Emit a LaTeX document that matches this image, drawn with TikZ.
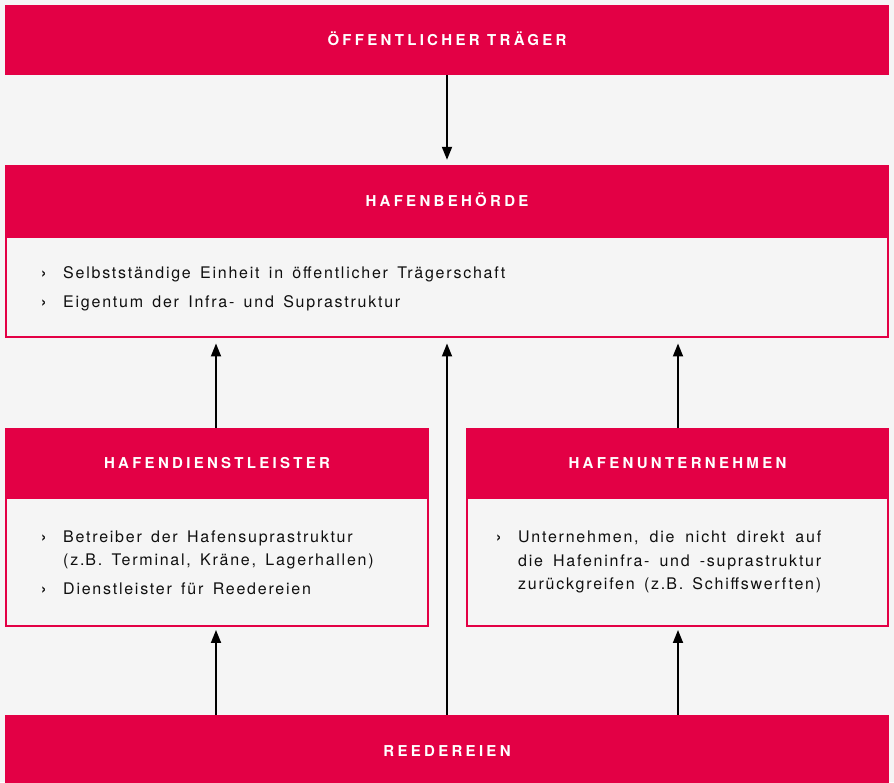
\documentclass[tikz,border=0pt]{standalone}
\usepackage{fontspec}
\setmainfont{TeX Gyre Heros}
\newfontfamily\hdrfont[LetterSpace=22]{TeX Gyre Heros}
\newfontfamily\txtfont[LetterSpace=11,WordSpace=1.5]{TeX Gyre Heros}
\usetikzlibrary{arrows.meta}
\definecolor{hafenrot}{HTML}{E30045}
\definecolor{grund}{HTML}{F5F5F5}
\definecolor{schrift}{HTML}{0F0F0F}
\begin{document}
\begin{tikzpicture}[x=1pt,y=1pt,
  kopf/.style={fill=hafenrot, draw=none, inner sep=0pt, text=white,
    font=\hdrfont\bfseries\fontsize{15}{18}\selectfont,
    text height=10.8pt, text depth=0pt},
  rumpf/.style={draw=hafenrot, line width=2pt, fill=grund, inner sep=0pt},
  zeile/.style={anchor=base west, inner sep=0pt, text=schrift,
    font=\txtfont\fontsize{16}{19}\selectfont},
  marke/.style={zeile, font=\txtfont\bfseries\fontsize{16}{19}\selectfont},
  pfeil/.style={line width=1.8pt, -{Triangle[length=13pt,width=10pt]}}
]
% canvas
\fill[grund] (0,0) rectangle (894,782);
\useasboundingbox (0,0) rectangle (894,782);

% public owner
\node[kopf, minimum width=884pt, minimum height=70pt] (traeger) at (447,742) {ÖFFENTLICHER TRÄGER};

% port authority
\node[rumpf, minimum width=882pt, minimum height=100pt] (behoerdeR) at (447,495) {};
\node[kopf, minimum width=884pt, minimum height=72pt] (behoerde) at (447,581) {HAFENBEHÖRDE};
\node[marke] (bm1) at (41,503) {›};
\node[zeile] (bt1) at (63,503) {Selbstständige Einheit in öffentlicher Trägerschaft};
\node[marke] (bm2) at (41,474) {›};
\node[zeile] (bt2) at (63,474) {Eigentum der Infra- und Suprastruktur};

% port service providers
\node[rumpf, minimum width=422pt, minimum height=128pt] (dienstR) at (217,220) {};
\node[kopf, minimum width=424pt, minimum height=70pt] (dienst) at (217,319) {HAFENDIENSTLEISTER};
\node[marke] (dm1) at (41,239) {›};
\node[zeile] (dt1) at (63,239) {Betreiber der Hafensuprastruktur};
\node[zeile] (dt2) at (63,216) {(z.\kern1ptB. Terminal, Kräne, Lagerhallen)};
\node[marke] (dm2) at (41,187) {›};
\node[zeile] (dt3) at (63,187) {Dienstleister für Reedereien};

% port companies
\node[rumpf, minimum width=421pt, minimum height=128pt] (unternR) at (677.5,220) {};
\node[kopf, minimum width=423pt, minimum height=70pt] (untern) at (677.5,319) {HAFENUNTERNEHMEN};
\node[marke] (um1) at (496,239) {›};
\node[zeile] (ut1) at (518,239) {\makebox[303pt][s]{Unternehmen, die nicht direkt auf}};
\node[zeile] (ut2) at (518,215) {\makebox[303pt][s]{die Hafeninfra- und -suprastruktur}};
\node[zeile] (ut3) at (518,192) {\makebox[303pt][s]{zurückgreifen (z.\kern1ptB. Schiffswerften)}};

% shipping companies
\node[kopf, minimum width=884pt, minimum height=72pt] (reederei) at (447,31) {REEDEREIEN};

% connectors
\draw[pfeil, shorten >=5pt] (traeger.south) -- (behoerde.north);
\draw[pfeil, shorten >=5.5pt] (216,0 |- dienst.north) -- (216,0 |- behoerdeR.south);
\draw[pfeil, shorten >=5.5pt] (reederei.north) -- (behoerdeR.south);
\draw[pfeil, shorten >=5.5pt] (678,0 |- untern.north) -- (678,0 |- behoerdeR.south);
\draw[pfeil, shorten >=3pt] (216,0 |- reederei.north) -- (216,0 |- dienstR.south);
\draw[pfeil, shorten >=3pt] (678,0 |- reederei.north) -- (678,0 |- unternR.south);
\end{tikzpicture}
\end{document}
